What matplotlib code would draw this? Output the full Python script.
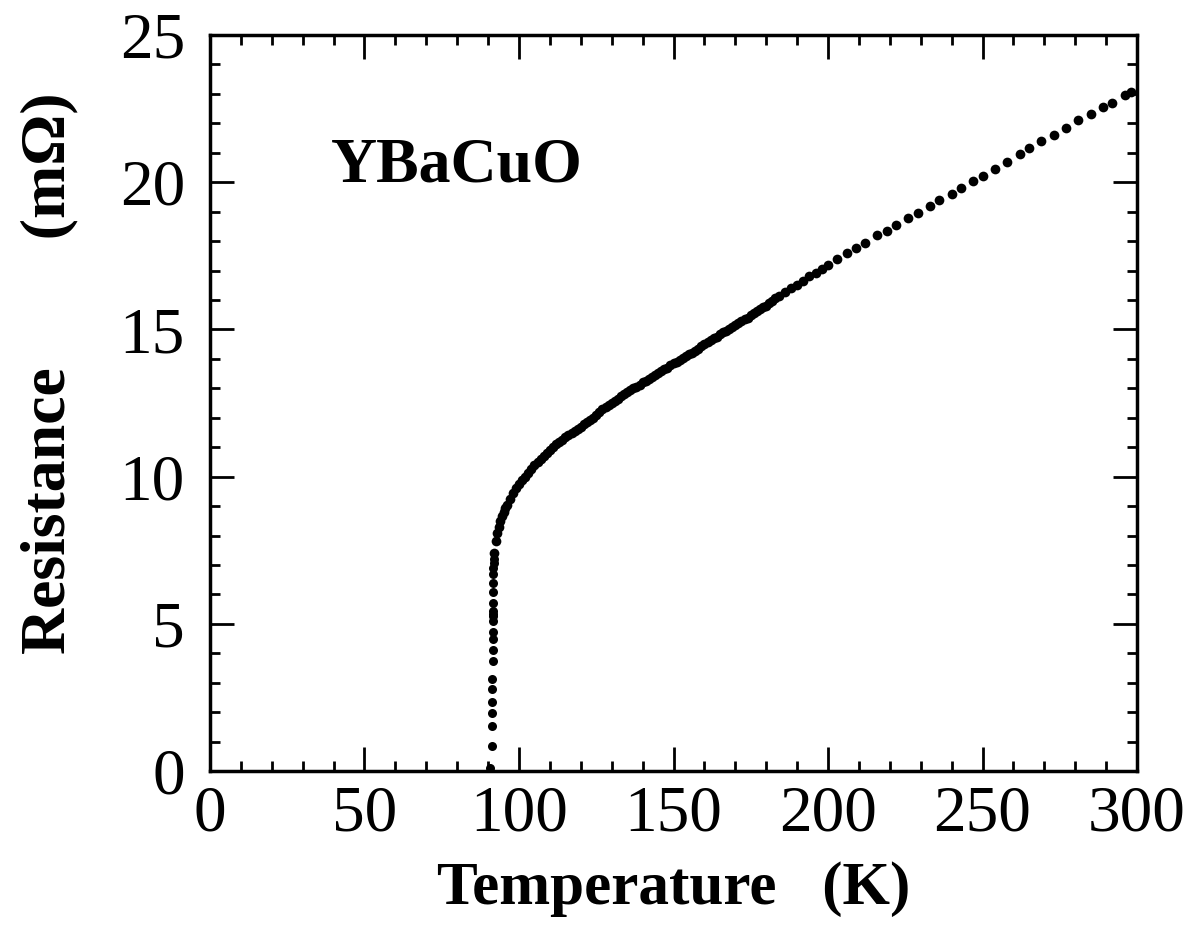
import numpy as np
import matplotlib
matplotlib.use("Agg")
import matplotlib.pyplot as plt
from matplotlib.ticker import MultipleLocator

plt.rcParams["font.family"] = ["Liberation Serif", "DejaVu Serif"]

# transition region (near-vertical drop)
temp_tc = [90.6, 91.3, 91.4, 91.4, 91.4, 91.4, 91.4, 91.5, 91.5, 91.5, 91.5,
           91.5, 91.6, 91.6, 91.6, 91.6, 91.6, 91.7, 91.7, 91.7, 91.8, 91.8]
res_tc = [0.1, 0.86, 1.53, 1.97, 2.35, 2.78, 3.14, 3.74, 4.1, 4.48, 4.72,
          5.1, 5.25, 5.35, 5.45, 5.7, 6.08, 6.4, 6.7, 6.9, 7.05, 7.2]

# normal-state curve
temp_n = [92.0, 92.5, 93, 93.5, 94, 94.5, 95, 95.5, 96, 97, 98, 99, 100, 101,
          102, 103, 104, 105, 106, 107, 108, 109, 110, 111, 112, 113, 114, 115,
          116, 117, 118, 119, 120, 121, 122, 123, 124, 125, 126, 127, 128, 129,
          130, 131, 132, 133, 134, 135, 136, 137, 138, 139, 140, 141, 142, 143,
          144, 145, 146, 147, 148, 149, 150, 151, 152, 153, 154, 155, 156, 157,
          158, 159, 160, 161, 162, 163, 164, 165, 166, 167, 168, 169, 170, 171,
          172, 173, 174, 175, 176, 177, 178, 179, 180, 181, 182, 183, 184, 186,
          188, 190, 192, 194, 196, 198, 200, 203, 206, 209, 212, 216, 219, 222,
          226, 229, 233, 236, 240, 243, 247, 250, 254, 258, 262, 265, 269, 273,
          277, 281, 285, 289, 292, 296, 298]
res_n = [7.4, 7.8, 8.1, 8.3, 8.5, 8.65, 8.8, 8.93, 9.05, 9.25, 9.45, 9.6, 9.75,
         9.88, 10.0, 10.13, 10.25, 10.38, 10.5, 10.6, 10.7, 10.8, 10.9, 11.0,
         11.1, 11.18, 11.25, 11.33, 11.4, 11.48, 11.55, 11.63, 11.7, 11.78,
         11.85, 11.93, 12.0, 12.1, 12.2, 12.28, 12.35, 12.43, 12.5, 12.58,
         12.65, 12.73, 12.8, 12.88, 12.95, 13.0, 13.05, 13.12, 13.2, 13.25,
         13.3, 13.38, 13.45, 13.52, 13.6, 13.65, 13.7, 13.78, 13.85, 13.9,
         13.95, 14.02, 14.1, 14.15, 14.2, 14.28, 14.35, 14.42, 14.5, 14.58,
         14.65, 14.7, 14.75, 14.83, 14.9, 14.95, 15.0, 15.08, 15.15, 15.22,
         15.3, 15.35, 15.4, 15.48, 15.55, 15.62, 15.7, 15.75, 15.8, 15.88,
         15.95, 16.05, 16.15, 16.27, 16.4, 16.52, 16.65, 16.8, 16.92, 17.05,
         17.2, 17.4, 17.6, 17.75, 17.95, 18.2, 18.35, 18.55, 18.8, 18.95, 19.2,
         19.4, 19.6, 19.8, 20.05, 20.2, 20.45, 20.7, 20.95, 21.15, 21.4, 21.6,
         21.85, 22.1, 22.3, 22.55, 22.7, 22.95, 23.05]

fig = plt.figure(figsize=(11.91, 9.38), dpi=100)
ax = fig.add_axes([0.1763, 0.178, 0.7784, 0.7847])

ax.plot(temp_tc, res_tc, "o", color="black", ms=6.5, mew=0)
ax.plot(temp_n, res_n, "o", color="black", ms=7, mew=0)

ax.set_xlim(0, 300)
ax.set_ylim(0, 25)
ax.xaxis.set_major_locator(MultipleLocator(50))
ax.xaxis.set_minor_locator(MultipleLocator(10))
ax.yaxis.set_major_locator(MultipleLocator(5))
ax.yaxis.set_minor_locator(MultipleLocator(1))
ax.tick_params(which="both", direction="in", top=True, right=True, width=2)
ax.tick_params(which="major", length=17)
ax.tick_params(which="minor", length=7)
ax.tick_params(axis="x", which="major", labelsize=47, pad=10)
ax.tick_params(axis="y", which="major", labelsize=47, pad=18)
for s in ax.spines.values():
    s.set_linewidth(2.5)

ax.set_xlabel("Temperature   (K)", fontsize=44, fontweight="bold", labelpad=12)
ax.set_ylabel("Resistance        (m\u03a9)", fontsize=46, fontweight="bold")
ax.yaxis.set_label_coords(-0.142, 0.54)
ax.text(39, 20.55, "YBaCuO", fontsize=46, fontweight="bold", va="center")

fig.savefig("out.png", dpi=100)
